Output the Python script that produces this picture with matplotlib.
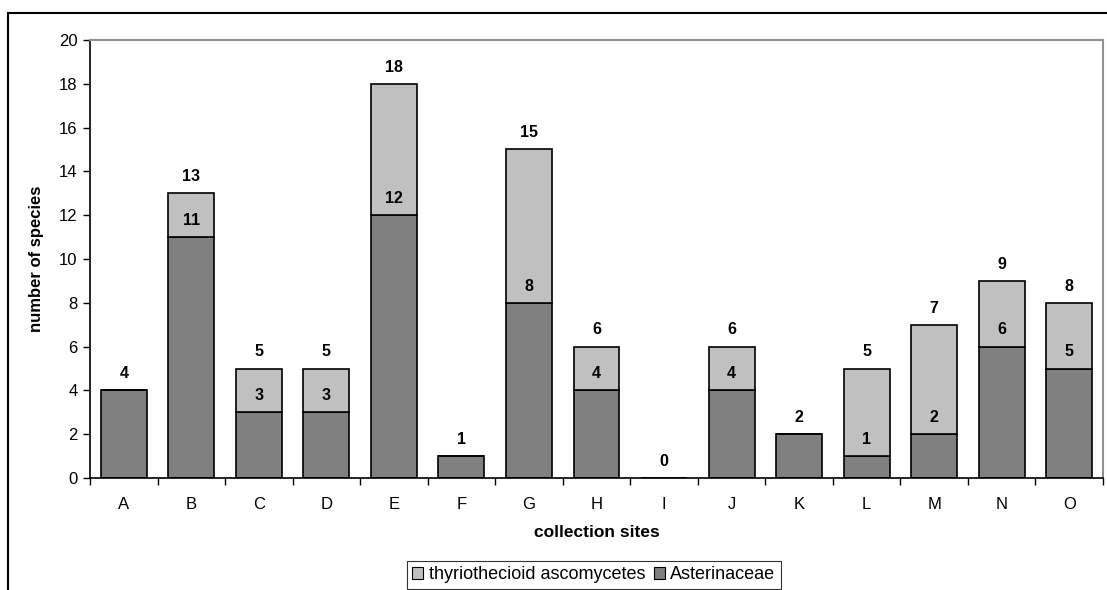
import matplotlib
matplotlib.use("Agg")
import matplotlib.pyplot as plt
from matplotlib.lines import Line2D
from matplotlib.patches import Patch
import numpy as np

plt.rcParams['font.family'] = ['Liberation Sans', 'DejaVu Sans']

# collection sites and species counts
sites = ["A", "B", "C", "D", "E", "F", "G", "H", "I", "J", "K", "L", "M", "N", "O"]
asterinaceae = [4, 11, 3, 3, 12, 1, 8, 4, 0, 4, 2, 1, 2, 6, 5]
thyriothecioid = [0, 2, 2, 2, 6, 0, 7, 2, 0, 2, 0, 4, 5, 3, 3]

W, H = 1107, 590
fig = plt.figure(figsize=(W / 100, H / 100), dpi=100)
ax = fig.add_axes([90 / W, (H - 478) / H, (1103 - 90) / W, (478 - 40) / H])

x = np.arange(len(sites))
ast = np.array(asterinaceae)
thy = np.array(thyriothecioid)
total = ast + thy

dark = "#808080"
light = "#c0c0c0"
bw = 0.68
ax.bar(x, ast, width=bw, color=dark, edgecolor="black", linewidth=1.2, zorder=2)
ax.bar(x, thy, width=bw, bottom=ast, color=light, edgecolor="black", linewidth=1.2, zorder=2)

# value labels: total on top, Asterinaceae count at the segment boundary
for xi, a, t, tot in zip(x, ast, thy, total):
    ax.annotate(str(tot), (xi, tot), xytext=(0, 12), textcoords="offset points",
                ha="center", va="center", fontsize=11.5, fontweight="bold")
    if t > 0:
        ax.annotate(str(a), (xi, a), xytext=(0, 12), textcoords="offset points",
                    ha="center", va="center", fontsize=11.5, fontweight="bold")

ax.set_xlim(-0.5, len(sites) - 0.5)
ax.set_ylim(0, 20)
ax.set_yticks(np.arange(0, 21, 2))
ax.set_xticks(x)
ax.set_xticklabels(sites)
ax.set_xticks(np.arange(-0.5, len(sites), 1.0), minor=True)
ax.tick_params(axis="x", which="major", length=0, pad=14, labelsize=12)
ax.tick_params(axis="x", which="minor", length=5, width=1, direction="out")
ax.tick_params(axis="y", length=5, width=1, direction="out", labelsize=12, pad=4)

for s in ("top", "right"):
    ax.spines[s].set_color("#909090")
    ax.spines[s].set_linewidth(1.5)
for s in ("left", "bottom"):
    ax.spines[s].set_color("black")
    ax.spines[s].set_linewidth(1.2)

ax.set_xlabel("collection sites", fontsize=12.5, fontweight="bold", labelpad=9)
ax.set_ylabel("number of species", fontsize=12, fontweight="bold", labelpad=11)

handles = [Patch(facecolor=light, edgecolor="black", linewidth=0.8),
           Patch(facecolor=dark, edgecolor="black", linewidth=0.8)]
leg = fig.legend(handles, ["thyriothecioid ascomycetes", "Asterinaceae"],
                 loc="upper left", bbox_to_anchor=(407 / W, (H - 561) / H),
                 ncol=2, fontsize=13, frameon=True, fancybox=False,
                 handlelength=0.6, handleheight=0.6, handletextpad=0.3,
                 columnspacing=0.5, borderpad=0.3, borderaxespad=0)
leg.get_frame().set_edgecolor("black")
leg.get_frame().set_linewidth(0.8)

# outer chart border (left and top edges)
fig.add_artist(Line2D([8 / W, 8 / W], [0, (H - 13) / H], transform=fig.transFigure,
                      color="black", linewidth=1.5))
fig.add_artist(Line2D([8 / W, 1], [(H - 13) / H, (H - 13) / H], transform=fig.transFigure,
                      color="black", linewidth=1.5))

fig.savefig("out.png", dpi=100)
